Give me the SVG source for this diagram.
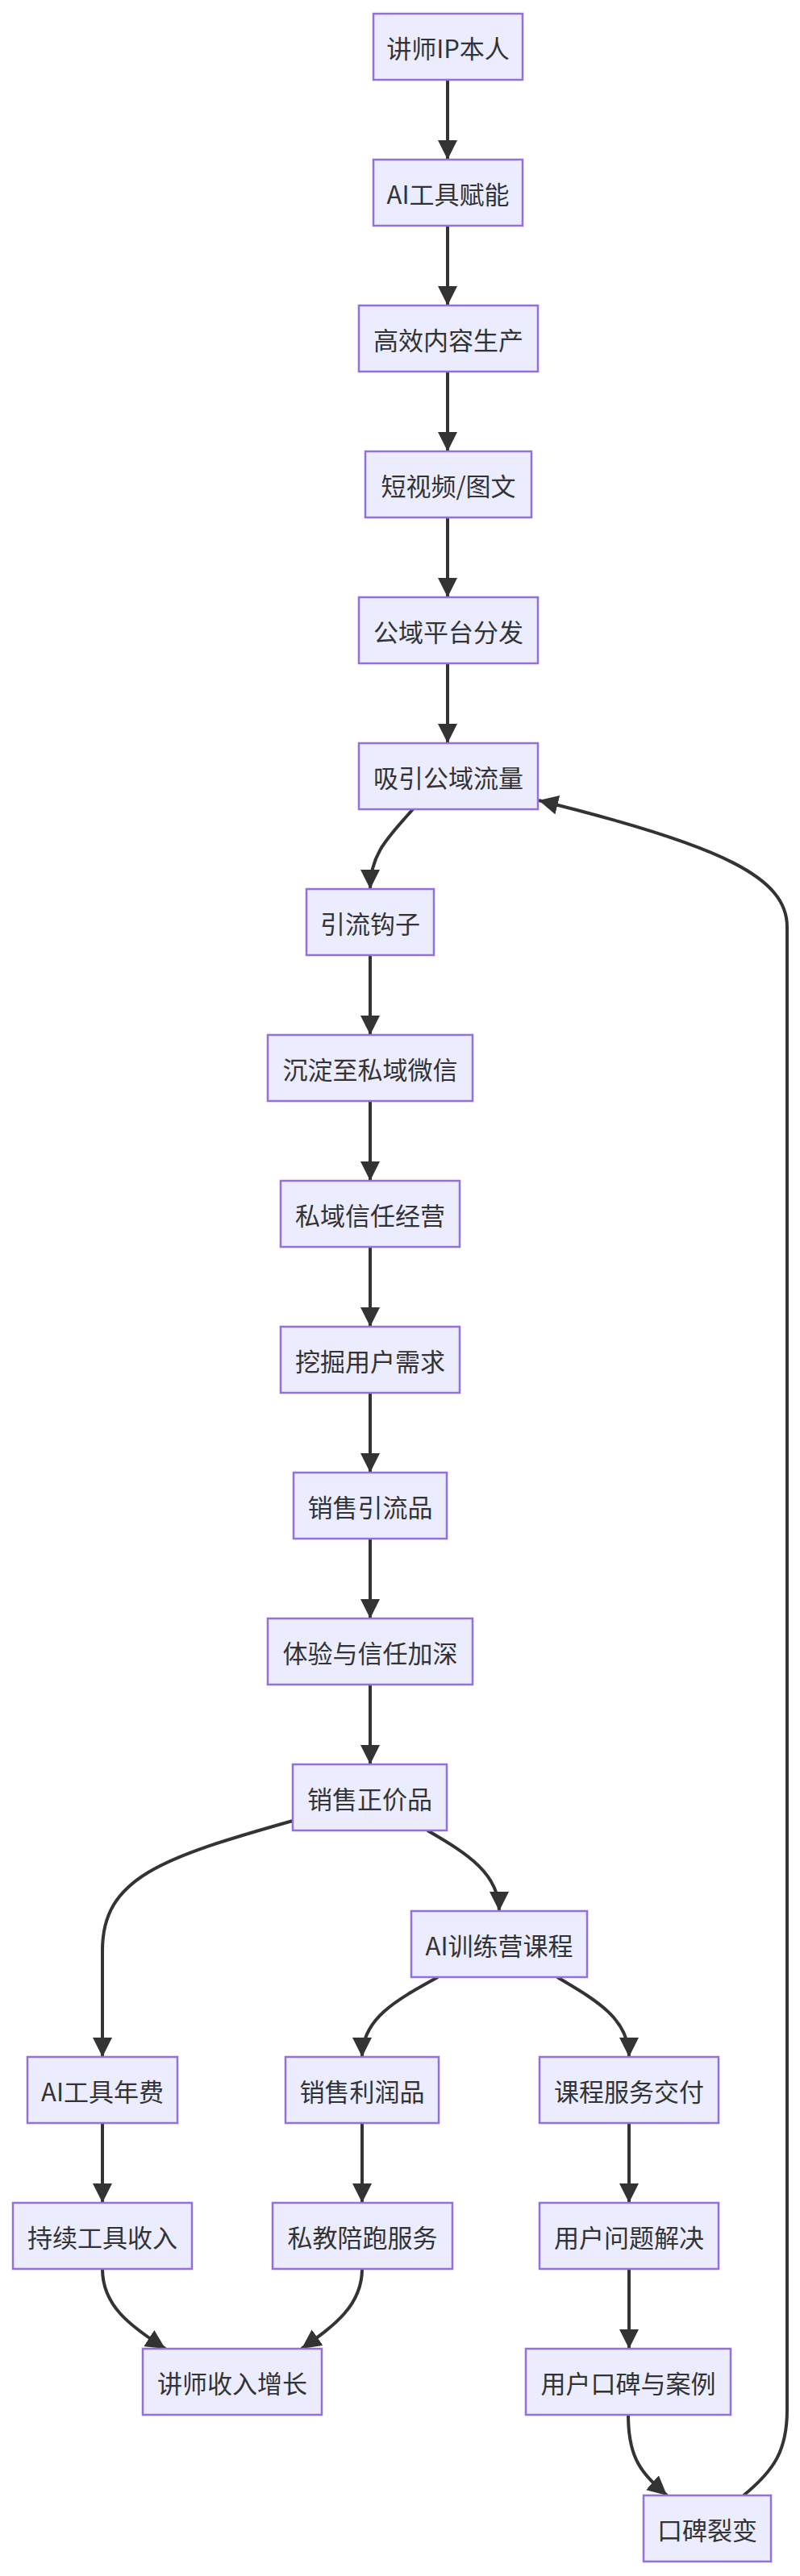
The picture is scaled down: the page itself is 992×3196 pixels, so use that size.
<svg xmlns="http://www.w3.org/2000/svg" width="992" height="3196" viewBox="0 0 992 3196">
<style>
.n rect{fill:#ECECFF;stroke:#9370DB;stroke-width:2.5}
.n text{font-family:"Noto Sans CJK SC","Noto Sans",sans-serif;font-size:31px;fill:#333;text-anchor:middle;dominant-baseline:central}
#edges path{fill:none;stroke:#333;stroke-width:4;marker-end:url(#arr)}
</style>
<defs>
<marker id="arr" viewBox="0 0 24 24" refX="24" refY="12" markerWidth="24" markerHeight="24" markerUnits="userSpaceOnUse" orient="auto"><path d="M0,0 L24,12 L0,24 z" fill="#333"/></marker>
</defs>
<rect width="992" height="3196" fill="#fff"/>
<g id="edges">
<path d="M555,99 V198"/>
<path d="M555,280 V379"/>
<path d="M555,461 V560"/>
<path d="M555,642 V741"/>
<path d="M555,823 V922"/>
<path d="M512,1004 C480,1040 459,1060 459,1103"/>
<path d="M459,1185 V1284"/>
<path d="M459,1366 V1465"/>
<path d="M459,1547 V1646"/>
<path d="M459,1728 V1827"/>
<path d="M459,1909 V2008"/>
<path d="M459,2090 V2189"/>
<path d="M363,2259 C200,2305 127,2330 127,2420 V2552"/>
<path d="M530,2271 C580,2300 619,2325 619,2371"/>
<path d="M543,2453 C490,2482 449,2505 449,2552"/>
<path d="M691,2453 C740,2482 780,2505 780,2552"/>
<path d="M127,2634 V2733"/>
<path d="M449,2634 V2733"/>
<path d="M780,2634 V2733"/>
<path d="M780,2815 V2914"/>
<path d="M127,2815 C127,2860 160,2885 205,2914"/>
<path d="M449,2815 C449,2860 415,2885 374,2914"/>
<path d="M779,2996 C779,3050 795,3068 827,3096"/>
<path d="M922,3096 C960,3065 976,3040 976,2990 V1150 C976,1090 900,1050 668,993"/>
</g>
<g id="n1" class="n"><rect x="463" y="17" width="185" height="82"/><text x="555.5" y="58">讲师IP本人</text></g>
<g id="n2" class="n"><rect x="463" y="198" width="185" height="82"/><text x="555.5" y="239">AI工具赋能</text></g>
<g id="n3" class="n"><rect x="445" y="379" width="222" height="82"/><text x="556" y="420">高效内容生产</text></g>
<g id="n4" class="n"><rect x="453" y="560" width="206" height="82"/><text x="556" y="601">短视频/图文</text></g>
<g id="n5" class="n"><rect x="445" y="741" width="222" height="82"/><text x="556" y="782">公域平台分发</text></g>
<g id="n6" class="n"><rect x="445" y="922" width="222" height="82"/><text x="556" y="963">吸引公域流量</text></g>
<g id="n7" class="n"><rect x="380" y="1103" width="158" height="82"/><text x="459" y="1144">引流钩子</text></g>
<g id="n8" class="n"><rect x="332" y="1284" width="254" height="82"/><text x="459" y="1325">沉淀至私域微信</text></g>
<g id="n9" class="n"><rect x="348" y="1465" width="222" height="82"/><text x="459" y="1506">私域信任经营</text></g>
<g id="n10" class="n"><rect x="348" y="1646" width="222" height="82"/><text x="459" y="1687">挖掘用户需求</text></g>
<g id="n11" class="n"><rect x="364" y="1827" width="190" height="82"/><text x="459" y="1868">销售引流品</text></g>
<g id="n12" class="n"><rect x="332" y="2008" width="254" height="82"/><text x="459" y="2049">体验与信任加深</text></g>
<g id="n13" class="n"><rect x="363" y="2189" width="191" height="82"/><text x="458.5" y="2230">销售正价品</text></g>
<g id="n14" class="n"><rect x="510" y="2371" width="218" height="82"/><text x="619" y="2412">AI训练营课程</text></g>
<g id="n15" class="n"><rect x="34" y="2552" width="186" height="82"/><text x="127" y="2593">AI工具年费</text></g>
<g id="n16" class="n"><rect x="354" y="2552" width="190" height="82"/><text x="449" y="2593">销售利润品</text></g>
<g id="n17" class="n"><rect x="669" y="2552" width="222" height="82"/><text x="780" y="2593">课程服务交付</text></g>
<g id="n18" class="n"><rect x="16" y="2733" width="222" height="82"/><text x="127" y="2774">持续工具收入</text></g>
<g id="n19" class="n"><rect x="338" y="2733" width="223" height="82"/><text x="449.5" y="2774">私教陪跑服务</text></g>
<g id="n20" class="n"><rect x="669" y="2733" width="222" height="82"/><text x="780" y="2774">用户问题解决</text></g>
<g id="n21" class="n"><rect x="177" y="2914" width="222" height="82"/><text x="288" y="2955">讲师收入增长</text></g>
<g id="n22" class="n"><rect x="652" y="2914" width="254" height="82"/><text x="779" y="2955">用户口碑与案例</text></g>
<g id="n23" class="n"><rect x="798" y="3096" width="158" height="82"/><text x="877" y="3137">口碑裂变</text></g>
</svg>
